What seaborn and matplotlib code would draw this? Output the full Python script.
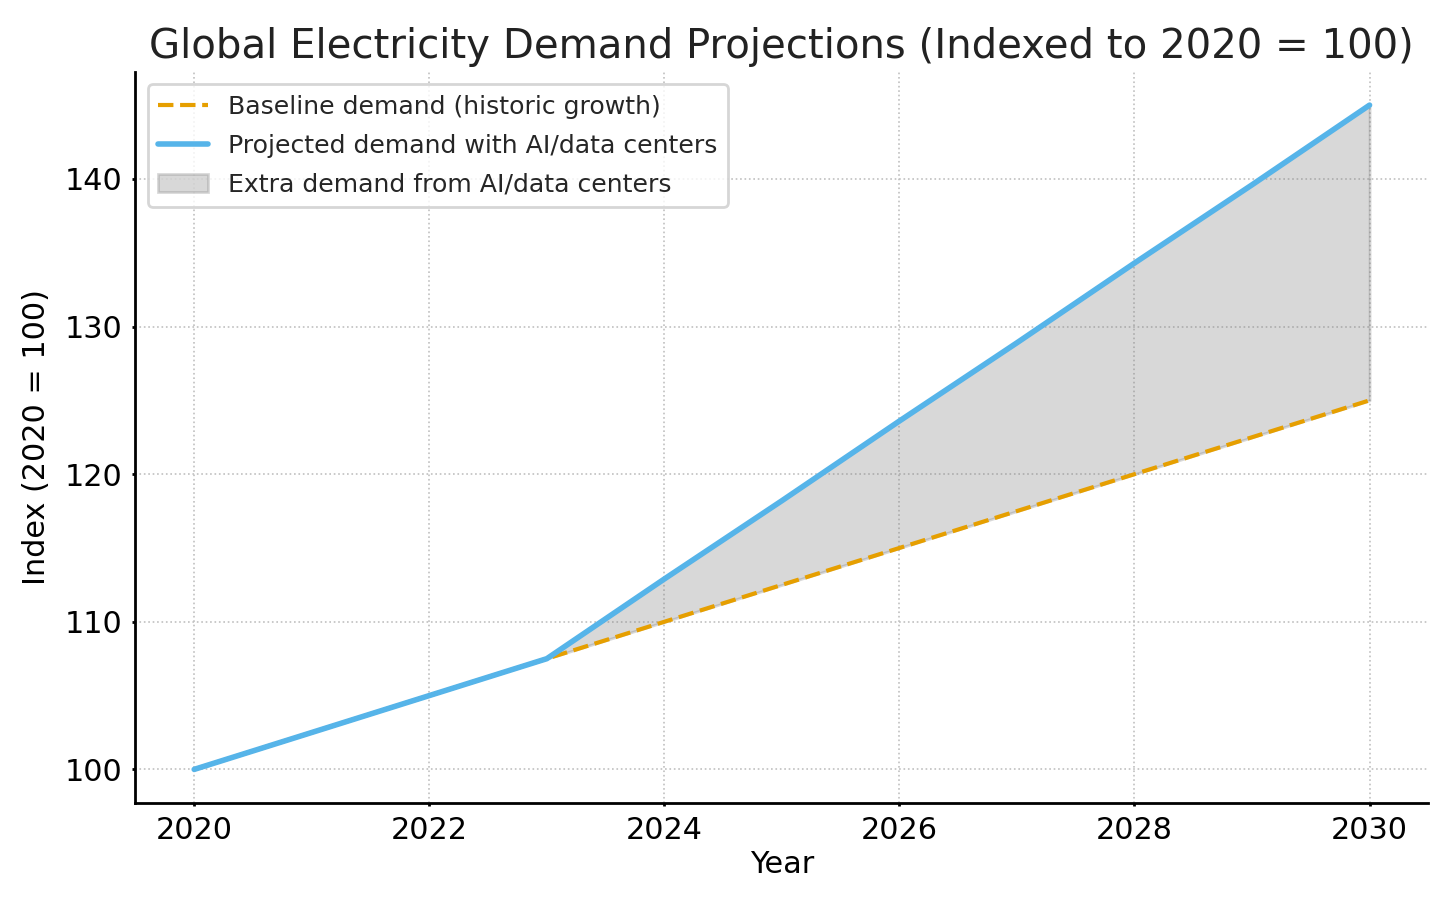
import matplotlib
matplotlib.use("Agg")
import matplotlib.pyplot as plt
import seaborn as sns
import numpy as np
import pandas as pd

years = [2020, 2021, 2022, 2023, 2024, 2025, 2026, 2027, 2028, 2029, 2030]
baseline = [100, 102.5, 105, 107.5, 110, 112.5, 115, 117.5, 120, 122.5, 125]
projected = [100, 102.5, 105, 107.5, 112.9, 118.2, 123.6, 128.9, 134.3, 139.6, 145]

df = pd.DataFrame({"year": years, "baseline": baseline, "projected": projected})

sns.set_style("ticks")
plt.rcParams['font.family'] = ['DejaVu Sans']

fig, ax = plt.subplots(figsize=(7.28, 4.55), dpi=200)

sns.lineplot(data=df, x="year", y="baseline", ax=ax, color="#E69F00",
             linestyle="--", linewidth=1.5, label="Baseline demand (historic growth)")
sns.lineplot(data=df, x="year", y="projected", ax=ax, color="#56B4E9",
             linewidth=2, label="Projected demand with AI/data centers")

# shaded gap only where the two series split
mask = df["year"] >= 2023
ax.fill_between(df["year"][mask], df["baseline"][mask], df["projected"][mask],
                color="gray", alpha=0.3, label="Extra demand from AI/data centers")

ax.set_title("Global Electricity Demand Projections (Indexed to 2020 = 100)",
             fontsize=14.5, color="#222222", pad=5)
ax.set_xlabel("Year", fontsize=10.9, color="black", labelpad=2)
ax.set_ylabel("Index (2020 = 100)", fontsize=10.9, color="black", labelpad=5)
ax.set_xticks(np.arange(2020, 2031, 2))
ax.tick_params(labelsize=10.9, width=1, length=1.2, pad=3.5, colors="black")
ax.grid(True, linestyle=":", linewidth=0.6, color="#c0c0c0")

for side in ["top", "right"]:
    ax.spines[side].set_visible(False)
for side in ["left", "bottom"]:
    ax.spines[side].set_linewidth(1.0)
    ax.spines[side].set_color("black")

ax.legend(loc="upper left", fontsize=9.05, frameon=True, labelspacing=0.6)

plt.subplots_adjust(left=0.093, right=0.981, bottom=0.118, top=0.921)
plt.savefig("out.png", dpi=200)
